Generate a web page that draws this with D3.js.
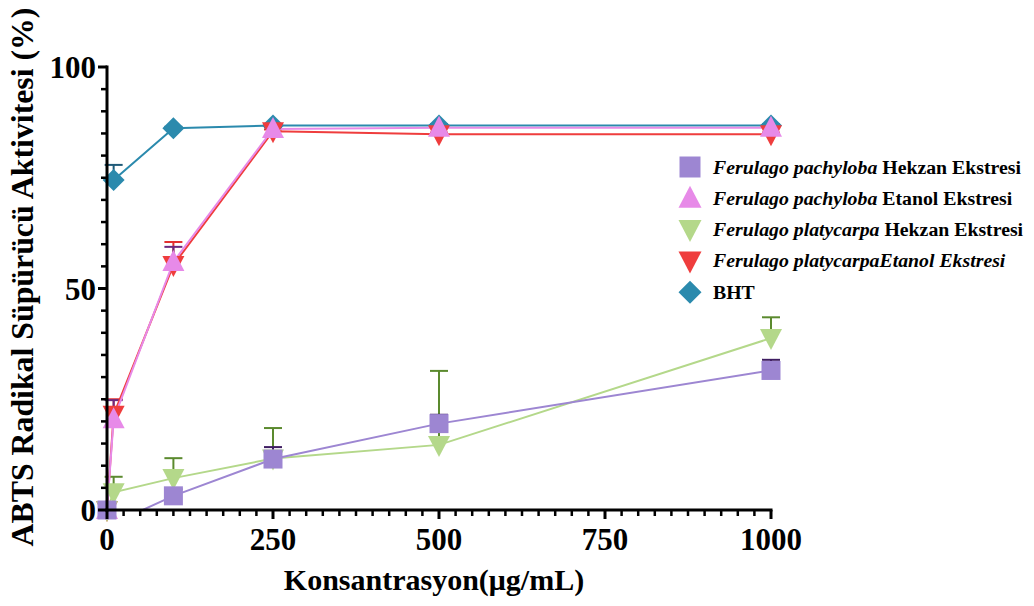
<!DOCTYPE html>
<html>
<head>
<meta charset="utf-8">
<script src="https://cdn.jsdelivr.net/npm/d3@7"></script>
<style>
  html, body { margin: 0; padding: 0; background: #ffffff; }
  svg { display: block; }
  text { font-family: "Liberation Serif", "Times New Roman", serif; font-weight: bold; fill: #000; }
</style>
</head>
<body>
<svg id="chart" width="1034" height="606"></svg>
<script>
// ---------- data ----------
const concentrations = [0, 10, 100, 250, 500, 1000];
const xTickLabels = [0, 250, 500, 750, 1000];
const yTickLabels = [0, 50, 100];

const pachylobaHekzan      = [0, -3, 3.2, 11.5, 19.5, 31.5];
const pachylobaHekzanErr   = [0, 0, 1.5, 2.7, 2.0, 2.4];
const pachylobaEtanol      = [0, 20.5, 56, 86, 86.3, 86.3];
const pachylobaEtanolErr   = [0, 4.3, 3.4, 0.4, 0.3, 0.3];
const platycarpaHekzan     = [0, 4, 7.2, 11.6, 14.7, 38.8];
const platycarpaHekzanErr  = [0, 3.5, 4.5, 6.9, 16.7, 4.7];
const platycarpaEtanol     = [0, 21.5, 55.3, 85.5, 84.8, 84.8];
const platycarpaEtanolErr  = [0, 3.5, 5.2, 0.4, 0.4, 0.4];
const bht                  = [null, 74.5, 86.2, 86.8, 86.8, 86.8];
const bhtErr               = [0, 3.4, 0.3, 0.3, 0.3, 0.3];

const seriesNames = [
  [{t: "Ferulago pachyloba", i: true}, {t: " Hekzan Ekstresi", i: false}],
  [{t: "Ferulago pachyloba", i: true}, {t: " Etanol Ekstresi", i: false}],
  [{t: "Ferulago platycarpa", i: true}, {t: " Hekzan Ekstresi", i: false}],
  [{t: "Ferulago platycarpaEtanol Ekstresi", i: true}],
  [{t: "BHT", i: false}]
];

// ---------- styles ----------
const series = [
  {name: seriesNames[0], values: pachylobaHekzan, err: pachylobaHekzanErr, color: "#9d86d2", errColor: "#3f1d62", shape: "square"},
  {name: seriesNames[1], values: pachylobaEtanol, err: pachylobaEtanolErr, color: "#e78ae8", errColor: "#6b2a80", shape: "up"},
  {name: seriesNames[2], values: platycarpaHekzan, err: platycarpaHekzanErr, color: "#b4d88a", errColor: "#5b8a2e", shape: "down"},
  {name: seriesNames[3], values: platycarpaEtanol, err: platycarpaEtanolErr, color: "#ef3d3d", errColor: "#e23030", shape: "down"},
  {name: seriesNames[4], values: bht, err: bhtErr, color: "#2b8aad", errColor: "#1f5a78", shape: "diamond"}
];
const drawOrder = [4, 3, 2, 1, 0];

const svg = d3.select("#chart");
const x = d3.scaleLinear().domain([0, 1000]).range([107, 771]);
const y = d3.scaleLinear().domain([0, 100]).range([510, 67]);

function shapePath(shape, s) {
  const h = s / 2;
  if (shape === "square") return `M${-h},${-h}H${h}V${h}H${-h}Z`;
  if (shape === "up") return `M0,${-h - 2}L${h + 1},${h - 1}L${-h - 1},${h - 1}Z`;
  if (shape === "down") return `M0,${h + 2}L${h + 1},${-h + 1}L${-h - 1},${-h + 1}Z`;
  if (shape === "diamond") return `M0,${-h - 1}L${h + 1},0L0,${h + 1}L${-h - 1},0Z`;
}

svg.append("defs").append("clipPath").attr("id", "plotClip")
  .append("rect").attr("x", x(0)).attr("y", 0).attr("width", x(1000) - x(0) + 20).attr("height", y(0));

const lineGen = d3.line()
  .defined(d => d.v !== null)
  .x(d => x(d.c)).y(d => y(d.v));

// error bars
const gErr = svg.append("g");
drawOrder.forEach(si => {
  const s = series[si];
  concentrations.forEach((c, i) => {
    const v = s.values[i];
    if (v === null || v < 0 || !s.err[i]) return;
    const top = y(v + s.err[i]);
    gErr.append("line").attr("x1", x(c)).attr("x2", x(c)).attr("y1", y(v)).attr("y2", top)
      .attr("stroke", s.errColor).attr("stroke-width", 2);
    gErr.append("line").attr("x1", x(c) - 9).attr("x2", x(c) + 9).attr("y1", top).attr("y2", top)
      .attr("stroke", s.errColor).attr("stroke-width", 2);
  });
});

// lines
const gLines = svg.append("g").attr("clip-path", "url(#plotClip)");
drawOrder.forEach(si => {
  const s = series[si];
  const pts = concentrations.map((c, i) => ({c, v: s.values[i]}));
  gLines.append("path").datum(pts).attr("d", lineGen)
    .attr("fill", "none").attr("stroke", s.color).attr("stroke-width", 2);
});

// markers
const gMarks = svg.append("g");
drawOrder.forEach(si => {
  const s = series[si];
  concentrations.forEach((c, i) => {
    const v = s.values[i];
    if (v === null || v < 0) return;
    gMarks.append("path").attr("d", shapePath(s.shape, s.shape === "square" ? 19 : 20))
      .attr("transform", `translate(${x(c)},${y(v)})`).attr("fill", s.color);
  });
});

// axes
const xAxisG = svg.append("g").attr("transform", `translate(0,${y(0)})`);
xAxisG.append("line").attr("x1", x(0) - 1.5).attr("x2", x(1000) + 1.5).attr("stroke", "#000").attr("stroke-width", 3);
d3.range(0, 1001, 25).forEach(v => {
  const major = v % 250 === 0;
  xAxisG.append("line").attr("x1", x(v)).attr("x2", x(v)).attr("y1", 0).attr("y2", major ? 9 : 6)
    .attr("stroke", "#000").attr("stroke-width", major ? 3 : 2.5);
});
xAxisG.selectAll("text.tl").data(xTickLabels).enter().append("text")
  .attr("x", d => x(d)).attr("y", 40).attr("text-anchor", "middle")
  .style("font-size", "31px").text(d => d);

const yAxisG = svg.append("g").attr("transform", `translate(${x(0)},0)`);
yAxisG.append("line").attr("y1", y(0) + 1.5).attr("y2", y(100) - 1.5).attr("stroke", "#000").attr("stroke-width", 3);
d3.range(0, 101, 5).forEach(v => {
  const major = v % 50 === 0;
  yAxisG.append("line").attr("x1", 0).attr("x2", major ? -9 : -6).attr("y1", y(v)).attr("y2", y(v))
    .attr("stroke", "#000").attr("stroke-width", major ? 3 : 2.5);
});
yAxisG.selectAll("text.tl").data(yTickLabels).enter().append("text")
  .attr("x", -11).attr("y", d => y(d) + 11).attr("text-anchor", "end")
  .style("font-size", "31px").text(d => d);

// axis titles
svg.append("text").attr("x", 434).attr("y", 590).attr("text-anchor", "middle")
  .style("font-size", "30px").text("Konsantrasyon(μg/mL)");
svg.append("text").attr("transform", "translate(33,277) rotate(-90)").attr("text-anchor", "middle")
  .style("font-size", "31.8px").text("ABTS Radikal Süpürücü Aktivitesi (%)");

// legend
const legend = svg.append("g");
series.forEach((s, i) => {
  const cy = 167 + i * 31.3;
  legend.append("path").attr("d", shapePath(s.shape, 21))
    .attr("transform", `translate(690,${cy})`).attr("fill", s.color);
  const t = legend.append("text").attr("x", 713).attr("y", cy + 6.5).style("font-size", "19.8px");
  s.name.forEach(part => {
    t.append("tspan").style("font-style", part.i ? "italic" : "normal").text(part.t);
  });
});
</script>
</body>
</html>
